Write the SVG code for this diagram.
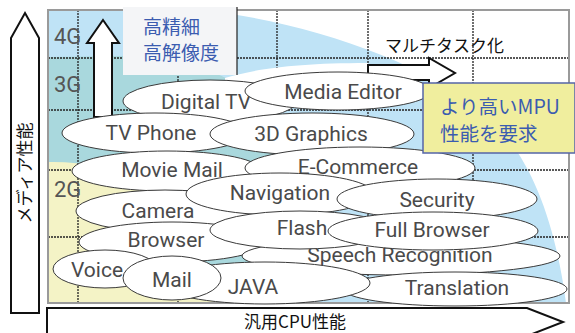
<svg xmlns="http://www.w3.org/2000/svg" width="575" height="333" viewBox="0 0 575 333">
<style>
.el{fill:#fff;stroke:#3a3a3a;stroke-width:1}
.lb{font-family:Roboto,"Open Sans",sans-serif;font-size:21px;fill:#4a4a4a;text-anchor:middle}
.gen{font-family:Roboto,"Open Sans",sans-serif;font-size:22px;fill:#555}
.grid{stroke:#222;stroke-width:1.3;stroke-dasharray:2 1;fill:none}
.jp{font-family:"Noto Sans CJK JP",sans-serif}
.arr{fill:#fff;stroke:#111;stroke-width:2;stroke-linejoin:miter}
</style>
<rect x="0" y="0" width="575" height="333" fill="#fff"/>
<g id="background">
<path d="M48,10 L200,10 C300,20 420,60 480,110 C530,150 555,220 566,303 L48,303 Z" fill="#bfe3f6"/>
<path d="M48,57 L125,56 C200,60 250,80 272,120 C285,160 280,240 288,303 L48,303 Z" fill="#a9d8dd"/>
<path d="M48,162 C110,160 170,190 195,240 C210,270 215,290 218,303 L48,303 Z" fill="#f4f3c6"/>
<g class="grid">
<line x1="78" y1="10" x2="78" y2="303"/>
<line x1="178" y1="10" x2="178" y2="303"/>
<line x1="277" y1="10" x2="277" y2="303"/>
<line x1="368" y1="10" x2="368" y2="303"/>
<line x1="473" y1="10" x2="473" y2="303"/>
<line x1="48" y1="58" x2="569" y2="58"/>
<line x1="48" y1="110" x2="569" y2="110"/>
<line x1="48" y1="170" x2="569" y2="170"/>
<line x1="48" y1="237" x2="569" y2="237"/>
</g>
<path d="M225,78 C255,69 295,63 368,63 L368,82 L225,92 Z" fill="#fff"/>
<rect x="48" y="10" width="521" height="293" fill="none" stroke="#9a9a9a" stroke-width="2"/>
<text class="gen" x="54" y="44">4G</text>
<text class="gen" x="54" y="92">3G</text>
<text class="gen" x="54" y="197">2G</text>
</g>
<g id="connectors">
<path class="arr" d="M103,20 L119,43 L112,43 L112,117 L94,117 L94,43 L87,43 Z"/>
<path class="arr" d="M368,65 L429,65 L429,58 L455,73 L429,88 L429,80 L368,80 Z"/>
<path class="arr" d="M25,13 L39,38 L39,313 L11,313 L11,38 Z"/>
<path class="arr" d="M47,308 L527,308 L563,322 L527,336 L47,336 Z"/>
</g>
<g id="n-digitaltv"><ellipse class="el" cx="210" cy="101" rx="87" ry="21"/><text class="lb" x="206" y="109">Digital TV</text></g>
<g id="n-mediaeditor"><ellipse class="el" cx="338" cy="91" rx="93" ry="19"/><text class="lb" x="343" y="99">Media Editor</text></g>
<g id="n-tvphone"><ellipse class="el" cx="155" cy="133" rx="93" ry="20"/><text class="lb" x="151" y="140">TV Phone</text></g>
<g id="n-3dgraphics"><ellipse class="el" cx="312" cy="134" rx="102" ry="21"/><text class="lb" x="311" y="141">3D Graphics</text></g>
<g id="n-moviemail"><ellipse class="el" cx="167" cy="171" rx="95" ry="20"/><text class="lb" x="172" y="177">Movie Mail</text></g>
<g id="n-ecommerce"><ellipse class="el" cx="360" cy="168" rx="115" ry="21"/><text class="lb" x="358" y="174">E-Commerce</text></g>
<g id="n-camera"><ellipse class="el" cx="165" cy="211" rx="89" ry="21"/><text class="lb" x="158" y="218">Camera</text></g>
<g id="n-navigation"><ellipse class="el" cx="280" cy="194" rx="94" ry="21"/><text class="lb" x="280" y="200">Navigation</text></g>
<g id="n-security"><ellipse class="el" cx="437" cy="199" rx="100" ry="20"/><text class="lb" x="437" y="207">Security</text></g>
<g id="n-browser"><ellipse class="el" cx="172" cy="242" rx="93" ry="20"/><text class="lb" x="166" y="247">Browser</text></g>
<g id="n-speech"><ellipse class="el" cx="401" cy="256" rx="159" ry="19"/><text class="lb" x="400" y="262">Speech Recognition</text></g>
<g id="n-flash"><ellipse class="el" cx="300" cy="230" rx="90" ry="19"/><text class="lb" x="302" y="235">Flash</text></g>
<g id="n-fullbrowser"><ellipse class="el" cx="433" cy="231" rx="105" ry="19"/><text class="lb" x="432" y="237">Full Browser</text></g>
<g id="n-translation"><ellipse class="el" cx="455" cy="289" rx="112" ry="17"/><text class="lb" x="457" y="295">Translation</text></g>
<g id="n-java"><ellipse class="el" cx="265" cy="283" rx="105" ry="21"/><text class="lb" x="253" y="294">JAVA</text></g>
<g id="n-voice"><ellipse class="el" cx="105" cy="269" rx="52" ry="19"/><text class="lb" x="97" y="277">Voice</text></g>
<g id="n-mail"><ellipse class="el" cx="172" cy="278" rx="49" ry="22"/><text class="lb" x="172" y="287">Mail</text></g>
<g id="n-box1">
<rect x="123" y="7" width="114" height="68" fill="#f4f5f7"/>
<line x1="237" y1="7" x2="237" y2="75" stroke="#222" stroke-width="1.2"/>
<text class="jp" x="143" y="34" font-size="19" fill="#3b5cb0">高精細</text>
<text class="jp" x="143" y="60" font-size="19" fill="#3b5cb0">高解像度</text>
</g>
<g id="n-box2">
<rect x="423" y="83" width="152" height="70" fill="#f0ee9e" stroke="#5565a8" stroke-width="1.5"/>
<text class="jp" x="440" y="114" font-size="19.5" fill="#3b5cb0">より高いMPU</text>
<text class="jp" x="440" y="141" font-size="19.5" fill="#3b5cb0">性能を要求</text>
</g>
<g id="labels">
<text class="jp" x="385" y="52" font-size="17" fill="#111">マルチタスク化</text>
<text class="jp" x="295" y="328" font-size="17" fill="#111" text-anchor="middle">汎用CPU性能</text>
<text class="jp" transform="translate(31,173) rotate(-90)" font-size="17" fill="#111" text-anchor="middle">メディア性能</text>
</g>
</svg>
